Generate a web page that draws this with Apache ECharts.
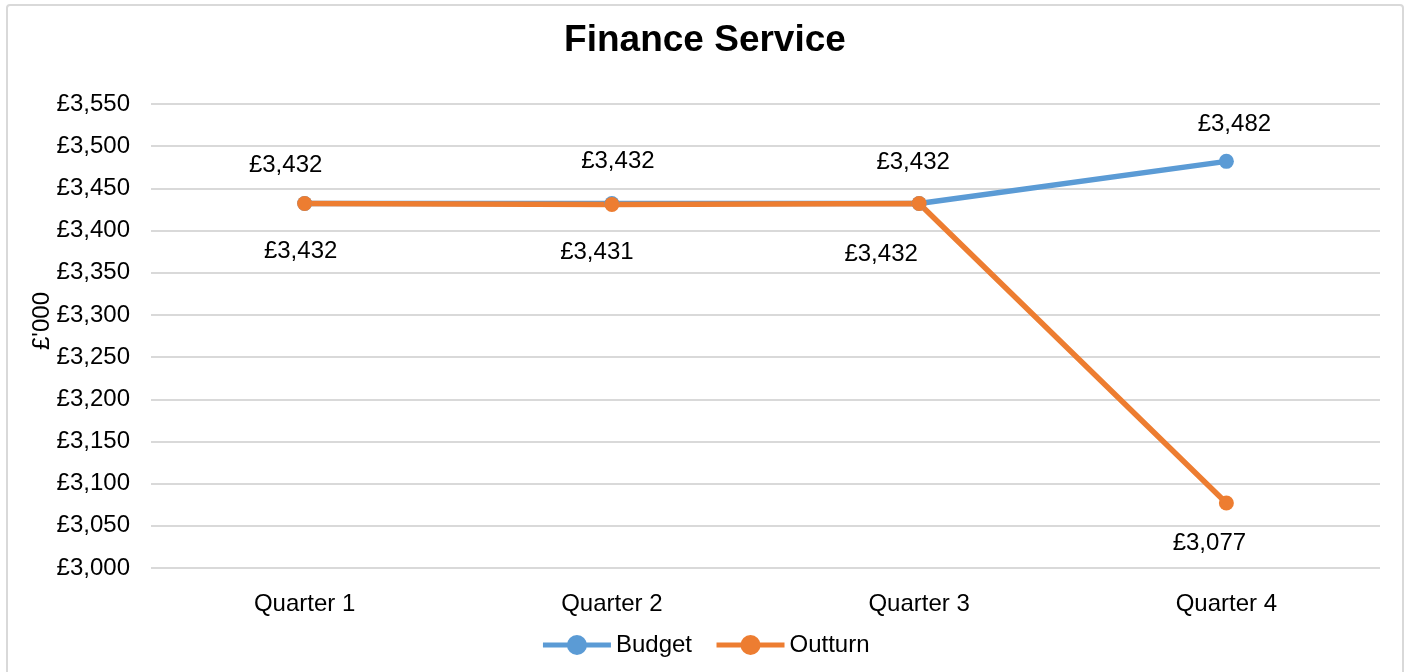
<!DOCTYPE html>
<html>
<head>
<meta charset="utf-8">
<script src="https://cdn.jsdelivr.net/npm/echarts@6/dist/echarts.min.js"></script>
<style>
  html, body { margin: 0; padding: 0; background: #fff; }
  #frame { position: absolute; left: 6px; top: 4px; width: 1398px; height: 680px; border: 2px solid #d9d9d9; border-radius: 4px; box-sizing: border-box; }
  #main { position: absolute; left: 0; top: 0; width: 1410px; height: 672px; }
</style>
</head>
<body>
<div id="frame"></div>
<div id="main"></div>
<script>
// chart data
var quarters = ['Quarter 1', 'Quarter 2', 'Quarter 3', 'Quarter 4'];
var budget = [3432, 3432, 3432, 3482];
var outturn = [3432, 3431, 3432, 3077];
var yTicks = { min: 3000, max: 3550, step: 50 };

// manual label nudges (Excel-style moved labels)
var budgetLabelOffset = [[-19, -38], [6, -42], [-6, -41], [8, -37]];
var outturnLabelOffset = [[-4, 48], [-15, 48], [-38, 51], [-17, 40]];

function money(v) {
    return '£' + v.toLocaleString('en-GB');
}

function withLabels(values, offsets) {
    return values.map(function (v, i) {
        return { value: v, label: { offset: offsets[i] } };
    });
}

var myChart = echarts.init(document.getElementById('main'));
var font = 'Liberation Sans, Arial, sans-serif';
myChart.setOption({
    animation: false,
    textStyle: { fontFamily: font },
    title: {
        text: 'Finance Service',
        left: 'center',
        top: 17,
        textStyle: { fontSize: 37, fontWeight: 'bold', color: '#000', fontFamily: font }
    },
    legend: {
        bottom: 10,
        left: 'center',
        itemWidth: 68,
        itemHeight: 25,
        itemGap: 22,
        lineStyle: { width: 5 },
        textStyle: { fontSize: 24, color: '#000', fontFamily: font },
        data: ['Budget', 'Outturn']
    },
    grid: { left: 151, right: 30, top: 104, bottom: 104 },
    xAxis: {
        type: 'category',
        data: quarters,
        boundaryGap: true,
        axisLine: { show: false },
        axisTick: { show: false },
        axisLabel: { fontSize: 24, color: '#000', margin: 24, fontFamily: font }
    },
    yAxis: {
        type: 'value',
        min: yTicks.min,
        max: yTicks.max,
        interval: yTicks.step,
        name: "£'000",
        nameLocation: 'middle',
        nameGap: 97,
        nameRotate: 90,
        nameMoveOverlap: false,
        nameTextStyle: { fontSize: 24, color: '#000', fontFamily: font, padding: [0, 0, 0, 30] },
        axisLine: { show: false },
        axisTick: { show: false },
        axisLabel: { fontSize: 24, color: '#000', margin: 21, fontFamily: font, formatter: money },
        splitLine: { lineStyle: { color: '#d9d9d9', width: 2 } }
    },
    series: [
        {
            name: 'Budget',
            type: 'line',
            data: withLabels(budget, budgetLabelOffset),
            color: '#5b9bd5',
            symbol: 'circle',
            symbolSize: 15,
            lineStyle: { width: 5.5, color: '#5b9bd5' },
            label: { show: true, position: 'inside', fontSize: 24, color: '#000', fontFamily: font,
                formatter: function (p) { return money(p.value); } }
        },
        {
            name: 'Outturn',
            type: 'line',
            data: withLabels(outturn, outturnLabelOffset),
            color: '#ed7d31',
            symbol: 'circle',
            symbolSize: 15,
            lineStyle: { width: 5.5, color: '#ed7d31' },
            label: { show: true, position: 'inside', fontSize: 24, color: '#000', fontFamily: font,
                formatter: function (p) { return money(p.value); } }
        }
    ]
});
</script>
</body>
</html>
